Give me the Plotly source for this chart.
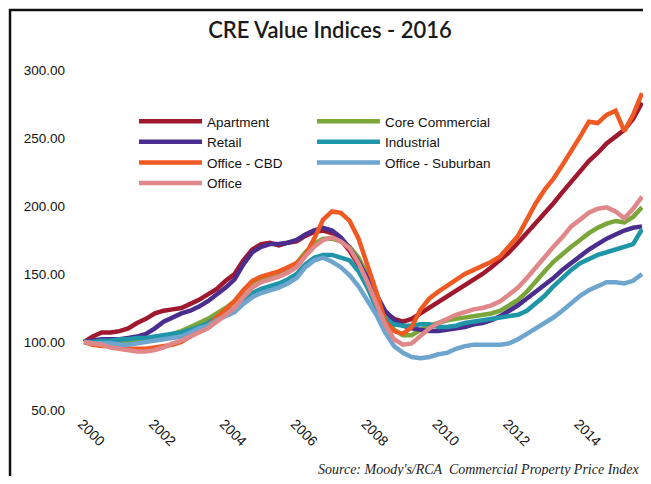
import plotly.graph_objects as go

# Quarterly observation dates (categories)
quarters = [f"{y}-{m:02d}-01" for y in range(2000, 2016) for m in (1, 4, 7, 10)]

apartment = [100, 104, 107, 107, 108, 110, 114, 117, 121, 123, 124, 125, 128, 131, 135, 139,
             145, 150, 160, 168, 172, 173, 171, 173, 174, 178, 181, 182, 180, 175, 167, 157,
             146, 133, 122, 117, 115, 117, 121, 126, 130, 134, 138, 142, 146, 150, 155, 160,
             166, 173, 180, 188, 195, 202, 210, 218, 226, 233, 239, 246, 251, 256, 264, 276]
core_commercial = [100, 100, 100, 100, 100, 100, 100, 101, 102, 104, 106, 108, 111, 114, 117, 121,
                   125, 130, 138, 144, 147, 149, 151, 154, 158, 166, 172, 176, 176, 174, 170, 162,
                   149, 134, 120, 109, 105, 105, 109, 112, 114, 116, 117, 118, 119, 120, 121, 123,
                   127, 131, 137, 145, 152, 159, 165, 170, 175, 180, 184, 187, 189, 188, 192, 199]
retail = [100, 101, 102, 102, 102, 103, 104, 106, 110, 115, 118, 121, 123, 126, 130, 135,
          140, 146, 157, 166, 170, 172, 172, 173, 175, 179, 182, 184, 182, 177, 169, 159,
          147, 134, 123, 116, 112, 110, 109, 108, 108, 109, 110, 111, 113, 114, 116, 119,
          123, 127, 132, 137, 142, 147, 153, 158, 164, 168, 172, 176, 179, 182, 184, 185]
industrial = [100, 100, 101, 101, 102, 102, 103, 103, 104, 105, 106, 107, 109, 111, 114, 118,
              121, 125, 131, 136, 139, 141, 143, 146, 150, 157, 162, 164, 164, 162, 160, 152,
              140, 125, 117, 113, 112, 112, 113, 113, 111, 111, 112, 114, 115, 116, 117, 118,
              119, 120, 123, 128, 134, 141, 147, 153, 158, 161, 164, 166, 168, 170, 172, 183]
office_cbd = [100, 98, 97, 97, 96, 95, 95, 95, 96, 97, 98, 100, 104, 108, 112, 118,
              124, 130, 138, 145, 148, 150, 152, 155, 158, 164, 176, 190, 196, 195, 189, 176,
              157, 137, 115, 108, 106, 111, 124, 132, 137, 141, 145, 150, 153, 156, 159, 163,
              170, 178, 190, 202, 212, 220, 230, 240, 251, 262, 261, 267, 270, 255, 267, 283]
office_suburban = [100, 99, 99, 99, 98, 98, 99, 100, 101, 102, 103, 104, 107, 110, 112, 116,
                   119, 122, 128, 133, 136, 138, 140, 143, 147, 155, 160, 162, 159, 155, 149, 141,
                   131, 120, 107, 97, 92, 89, 88, 89, 91, 92, 95, 97, 98, 98, 98, 98,
                   99, 102, 106, 110, 114, 118, 123, 129, 134, 138, 141, 144, 144, 143, 145, 150]
office = [100, 99, 98, 96, 95, 94, 93, 93, 94, 96, 99, 101, 104, 107, 110, 115,
          120, 125, 133, 140, 144, 146, 148, 151, 155, 163, 170, 175, 177, 174, 169, 158,
          144, 128, 113, 102, 98, 99, 105, 110, 114, 117, 120, 122, 124, 125, 127, 130,
          135, 140, 147, 155, 162, 170, 177, 185, 190, 195, 198, 199, 196, 191, 198, 207]

x_ticks = ["2000-01-01", "2002-01-01", "2004-01-01", "2006-01-01",
           "2008-01-01", "2010-01-01", "2012-01-01", "2014-01-01"]
y_ticks = [50, 100, 150, 200, 250, 300]

series = [
    ("Apartment", apartment, "#A0182E", "legend"),
    ("Core Commercial", core_commercial, "#7AA63A", "legend2"),
    ("Retail", retail, "#4A2D8F", "legend"),
    ("Industrial", industrial, "#1F95A8", "legend2"),
    ("Office - CBD", office_cbd, "#F05A22", "legend"),
    ("Office - Suburban", office_suburban, "#6EA5CF", "legend2"),
    ("Office", office, "#E0878A", "legend"),
]

fig = go.Figure()
for name, vals, color, lg in series:
    fig.add_trace(go.Scatter(x=quarters, y=vals, name=name, mode="lines",
                             line=dict(color=color, width=4.5), legend=lg))

legend_style = dict(bgcolor="rgba(0,0,0,0)",
                    font=dict(family="Liberation Sans, Arial", size=13.5, color="#111"),
                    itemwidth=63, yanchor="top", xanchor="left", tracegroupgap=0)

fig.update_layout(
    width=635, height=468,
    margin=dict(l=72, r=0, t=62, b=66),
    paper_bgcolor="white", plot_bgcolor="white",
    title=dict(text="CRE Value Indices - 2016", x=0.507, xref="container", xanchor="center",
               y=0.953, yref="container", yanchor="middle",
               font=dict(family="Lato, sans-serif", size=22, color="#1a1a1a", weight=600)),
    legend=dict(x=0.0959, y=0.894, **legend_style),
    legend2=dict(x=0.412, y=0.894, **legend_style),
    xaxis=dict(type="date", range=["1999-11-21", "2015-10-11"], tickvals=x_ticks, tickformat="%Y",
               tickangle=45, showgrid=False, zeroline=False, showline=False, ticks="",
               tickfont=dict(family="Liberation Sans, Arial", size=14, color="#111"),
               ticklabelstandoff=2, ticklabelshift=-2),
    yaxis=dict(range=[50, 300], tickvals=y_ticks, tickformat=".2f", showgrid=False,
               zeroline=False, showline=False, ticks="",
               tickfont=dict(family="Liberation Sans, Arial", size=13.5, color="#111"),
               ticklabelstandoff=14),
    annotations=[dict(text="Source: Moody's/RCA  Commercial Property Price Index",
                      xref="paper", yref="paper", x=0.998, y=-0.176, xanchor="right", yanchor="middle",
                      showarrow=False,
                      font=dict(family="Liberation Serif, serif", size=14, color="#222",
                                style="italic"))],
    shapes=[dict(type="rect", xref="paper", yref="paper", x0=-0.1243, x1=1.3, y0=-0.5, y1=1.1765,
                 line=dict(color="#111", width=2.5), fillcolor="rgba(0,0,0,0)", layer="above")],
)

fig.write_html("out.html")
